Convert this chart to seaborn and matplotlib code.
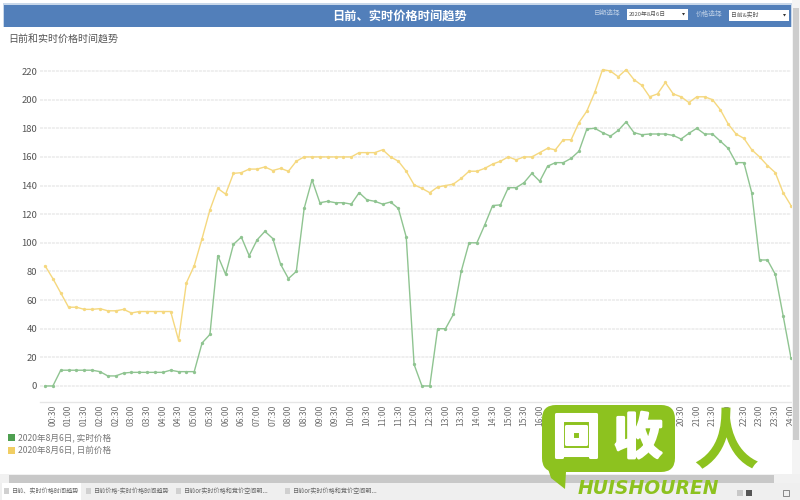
import numpy as np
import pandas as pd
import seaborn as sns
import matplotlib
matplotlib.use("Agg")
import matplotlib.pyplot as plt
import matplotlib.patheffects as pe
from matplotlib.patches import Rectangle, FancyBboxPatch, Polygon

sns.set_theme(style="white")
plt.rcParams['font.family'] = ['Noto Sans CJK SC', 'DejaVu Sans']
plt.rcParams['axes.unicode_minus'] = False

times = ["%02d:%02d" % ((m // 60), (m % 60)) for m in range(15, 24 * 60 + 1, 15)]

realtime = [0, 0, 11, 11, 11, 11, 11, 10, 7, 7, 9, 9.5, 9.5, 9.5, 9.5, 9.5, 11, 10, 10, 10,
            30, 36, 91, 78, 99, 104, 91, 102, 108, 103, 85, 75, 80, 124, 144, 128, 129, 128, 128, 127,
            135, 130, 129, 127, 128.5, 124, 104, 15, 0, 0, 40, 40, 50, 80, 100, 100, 112.5, 126, 126.5, 138.5,
            138.5, 142, 148.5, 143, 153.5, 156, 156, 159, 164, 179.5, 180, 177, 174.5, 178.5, 184.5, 177, 175.5, 176, 176, 176,
            175, 172.5, 176.5, 180, 176, 176, 171, 166, 156, 156, 135, 88, 88, 78, 49, 19.5]

dayahead = [84, 75, 65, 55, 55, 53.5, 53.5, 54, 52.5, 52.5, 53.5, 51, 52, 52, 52, 52, 52, 32, 72, 84,
            103, 123, 138, 134, 148.5, 149, 151.5, 151.5, 153, 150.5, 152, 150, 157, 160, 160, 160, 160, 160, 160, 160,
            163, 163, 163, 165, 160, 157, 150, 140.5, 138, 135, 139, 140, 141, 145, 150, 150, 152, 155, 157, 160,
            158, 160, 160, 163, 166, 165, 172, 172, 184, 192, 205, 221, 220, 216, 221, 214, 210, 202, 204, 212,
            204, 202, 198, 202, 202, 200, 193, 183, 176, 173, 165, 160, 154, 149, 135, 126]

series_names = ["2020年8月6日, 实时价格", "2020年8月6日, 日前价格"]
title = "日前、实时价格时间趋势"
subtitle = "日前和实时价格时间趋势"
tabs = ["日前、实时价格时间趋势", "日前价格-实时价格时间趋势", "日前or实时价格和竞价空间明...", "日前or实时价格和竞价空间明..."]
GREEN, YELLOW = "#4E9F50", "#F1CE63"
LINE_G, LINE_Y = "#8FC491", "#F5D87F"

W, H = 800, 500
fig = plt.figure(figsize=(8, 5), dpi=100, facecolor="white")
L, R, T, B = 40, 791, 60, 401.7
ax = fig.add_axes([L / W, 1 - B / H, (R - L) / W, (B - T) / H])

df = pd.DataFrame({"idx": list(range(len(times))) * 2,
                   "value": realtime + dayahead,
                   "series": [series_names[0]] * 96 + [series_names[1]] * 96})
sns.lineplot(data=df, x="idx", y="value", hue="series", hue_order=series_names,
             palette=[LINE_G, LINE_Y], marker="o", markersize=2.4, markeredgewidth=0,
             linewidth=1.0, legend=False, ax=ax)

ax.set_xlim(-0.64, 95)
ax.set_ylim(-11, 227.7)
ax.set_xlabel("")
ax.set_ylabel("")
ax.set_yticks(range(0, 221, 20))
ax.set_xticks(range(1, 96, 2))
ax.set_xticklabels(times[1::2], rotation=90, fontsize=6.2, color="#707070")
ax.tick_params(axis="y", labelsize=6.8, labelcolor="#555555", length=0, pad=2)
ax.tick_params(axis="x", length=0, pad=2)
ax.yaxis.grid(True, color="#EBEBEB", linewidth=1.1, linestyle=(0, (2, 0.6)))
ax.xaxis.grid(False)
for s in ["top", "left", "right"]:
    ax.spines[s].set_visible(False)
ax.spines["bottom"].set_color("#E6E6E6")
ax.spines["bottom"].set_linewidth(1)

# Page furniture, in pixel coordinates of the figure
ov = fig.add_axes([0, 0, 1, 1], facecolor="none")
ov.set_xlim(0, W)
ov.set_ylim(H, 0)
ov.axis("off")

ov.add_patch(Rectangle((3, 3), 789, 24, fc="#C9D8EA", ec="none"))
ov.add_patch(Rectangle((4, 5), 787, 21.5, fc="#527FBA", ec="none"))
ov.text(400, 16, title, color="white", fontsize=8.8, fontweight="bold", ha="center", va="center")
ov.text(8, 39, subtitle, color="#555555", fontsize=7.2, ha="left", va="center")

ov.text(607, 13, "日期选择", color="#B9CCE4", fontsize=4.8, ha="center", va="center")
ov.add_patch(Rectangle((627, 9), 61, 11, fc="white", ec="none"))
ov.text(629, 14.5, "2020年8月6日", color="#555555", fontsize=4.2, ha="left", va="center")
ov.add_patch(Polygon([(682, 13), (685, 13), (683.5, 15.5)], fc="#333333", ec="none"))
ov.text(709, 14, "价格选择", color="#B9CCE4", fontsize=4.8, ha="center", va="center")
ov.add_patch(Rectangle((729, 10), 60, 11, fc="white", ec="none"))
ov.text(731, 15.5, "日前&实时", color="#555555", fontsize=4.2, ha="left", va="center")
ov.add_patch(Polygon([(783, 14), (786, 14), (784.5, 16.5)], fc="#333333", ec="none"))

# Legend
for y, c, name in [(434, GREEN, series_names[0]), (447, YELLOW, series_names[1])]:
    ov.add_patch(Rectangle((8, y), 7, 7, fc=c, ec="none"))
    ov.text(18, y + 3.7, name, color="#777777", fontsize=6.2, ha="left", va="center")

# Scrollbars and tab strip
ov.add_patch(Rectangle((792, 0), 8, 476, fc="#F4F4F4", ec="none"))
ov.add_patch(Rectangle((792.5, 8), 6, 432, fc="#CDCDCD", ec="none"))
ov.add_patch(Rectangle((0, 474), 800, 9, fc="#F1F1F1", ec="none"))
ov.add_patch(Rectangle((9, 475), 765, 7.5, fc="#C8C8C8", ec="none"))
ov.add_patch(Rectangle((0, 483), 800, 17, fc="#EFEFEF", ec="none"))
ov.add_patch(Rectangle((2, 483), 79, 17, fc="white", ec="none"))
for x, t in zip([12, 94, 184, 293], tabs):
    ov.add_patch(Rectangle((x - 8, 488), 5, 6, fc="#D0D0D0", ec="none"))
    ov.text(x, 491, t, color="#666666", fontsize=4.4, ha="left", va="center")
ov.add_patch(Rectangle((737, 490), 6, 6, fc="#C8C8C8", ec="none"))
ov.add_patch(Rectangle((746, 490), 6, 6, fc="#555555", ec="none"))
ov.add_patch(Rectangle((783, 490), 6, 6, fc="none", ec="#777777", lw=0.6))

# Watermark
LOGO = "#8DC21F"
ov.add_patch(FancyBboxPatch((552, 415), 113, 47, boxstyle="round,pad=10,rounding_size=14", fc=LOGO, ec="none"))
ov.add_patch(Polygon([(542.5, 452), (576, 466), (566, 472), (565, 489), (551, 478)], fc=LOGO, ec="none"))
thick = [pe.withStroke(linewidth=2.2, foreground="white")]
ov.text(576, 439, "回", color="white", fontsize=34, fontweight="black", ha="center", va="center", path_effects=thick)
ov.text(638, 439, "收", color="white", fontsize=35, fontweight="black", ha="center", va="center", path_effects=thick)
ov.text(726, 444, "人", color=LOGO, fontsize=47, fontweight="black", ha="center", va="center")
ov.text(648, 488, "HUISHOUREN", color=LOGO, fontsize=13.5, fontweight="bold", fontstyle="italic",
        family="DejaVu Sans", ha="center", va="center")

fig.savefig("out.png", dpi=100)
